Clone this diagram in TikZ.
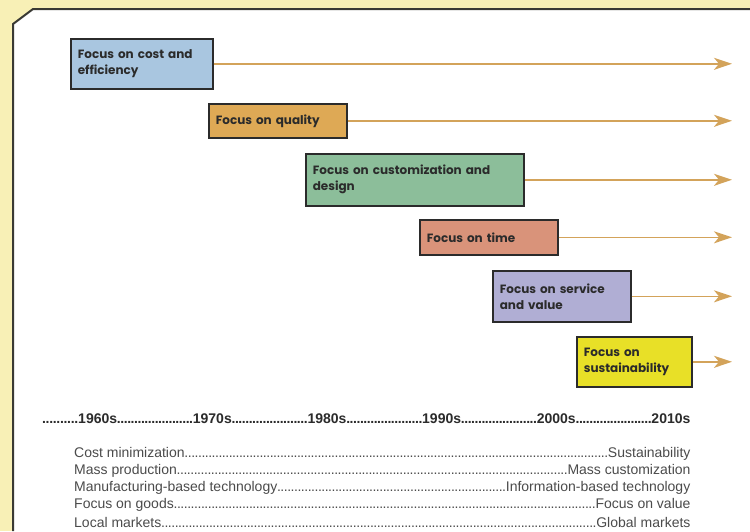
\documentclass[tikz,border=0pt]{standalone}
\usepackage{fontspec}
\setmainfont{Liberation Sans}
\newfontfamily\boxfont{Poppins}
\usetikzlibrary{arrows.meta}
\definecolor{pagebg}{HTML}{F8F0B6}
\definecolor{rimgray}{HTML}{3A3A34}
\definecolor{trendtan}{HTML}{D3A35A}
\definecolor{costblue}{HTML}{A9C6E0}
\definecolor{qualityorange}{HTML}{DEA955}
\definecolor{designgreen}{HTML}{8CBE9A}
\definecolor{timesalmon}{HTML}{D9937A}
\definecolor{servicepurple}{HTML}{B0AED4}
\definecolor{sustainyellow}{HTML}{E8E027}
\definecolor{inkgray}{HTML}{2B2B2B}
\newcommand\tightdots{\xleaders\hbox to 3.4pt{\hss.\hss}\hfill}
\tikzset{
  focusbox/.style={draw=inkgray, line width=1.6pt, anchor=north west, align=left,
    inner xsep=7pt, inner ysep=0pt, text=inkgray,
    font=\boxfont\bfseries\fontsize{12}{16}\selectfont},
  trend/.style={trendtan, line width=1.5pt,
    -{Stealth[length=18pt,width=12pt,inset=5pt]}},
  pairrow/.style={anchor=west, inner sep=0pt, text=inkgray!85,
    font=\fontsize{14}{17}\selectfont}
}
\begin{document}
\begin{tikzpicture}[x=1pt,y=-1pt]
  \useasboundingbox (0,0) rectangle (750,531);
  % page and panel
  \fill[pagebg] (0,0) rectangle (750,531);
  \fill[white] (13,531) -- (13,24) -- (33,9) -- (750,9) -- (750,531) -- cycle;
  \draw[rimgray, line width=2pt] (13,531) -- (13,24) -- (33,9) -- (750,9);
  \coordinate (tip) at (732,0);
  % focus boxes with their trend arrows
  \foreach \name/\x/\y/\w/\h/\col/\txt in {
      cost/70/38/128/50/costblue/{Focus on cost and\\efficiency},
      quality/208/103/124/34/qualityorange/{Focus on quality},
      design/305/153/204/52/designgreen/{Focus on customization and\\design},
      time/419/219/124/35/timesalmon/{Focus on time},
      service/492/270/124/51/servicepurple/{Focus on service\\and value},
      sustain/576/336/101/50/sustainyellow/{Focus on\\sustainability}}
  {
    \node[focusbox, fill=\col, text width=\w pt, minimum height=\h pt]
      (\name) at (\x,\y) {\txt};
    \draw[trend] (\name.east) -- (\name.east -| tip);
  }
  % decades
  \node[anchor=west, inner sep=0pt, text=inkgray,
        font=\bfseries\fontsize{14}{17}\selectfont] (decades) at (42,419)
    {\makebox[648pt][l]{\hbox to 36pt{\tightdots}1960s\tightdots 1970s\tightdots
      1980s\tightdots 1990s\tightdots 2000s\tightdots 2010s}};
  % shifts
  \foreach \lhs/\rhs [count=\k] in {
      Cost minimization/Sustainability,
      Mass production/Mass customization,
      Manufacturing-based technology/Information-based technology,
      Focus on goods/Focus on value,
      Local markets/Global markets}
    \node[pairrow] (shift\k) at (74,{437+17*\k})
      {\makebox[616pt][l]{\lhs\tightdots\rhs}};
\end{tikzpicture}
\end{document}
